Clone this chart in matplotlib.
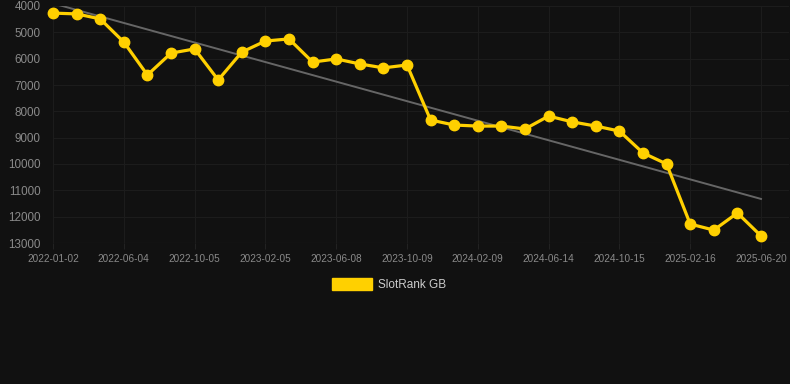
import numpy as np
import matplotlib.pyplot as plt
from matplotlib.patches import Rectangle

plt.rcParams["font.family"] = ["Liberation Sans", "DejaVu Sans"]

tick_labels = ["2022-01-02", "2022-06-04", "2022-10-05", "2023-02-05",
               "2023-06-08", "2023-10-09", "2024-02-09", "2024-06-14",
               "2024-10-15", "2025-02-16", "2025-06-20"]
rank = [4270, 4300, 4490, 5370, 6620, 5790, 5630, 6810, 5750, 5330,
        5250, 6130, 6010, 6200, 6350, 6240, 8330, 8520, 8560, 8560,
        8670, 8180, 8400, 8560, 8750, 9580, 10000, 12280, 12510, 11860,
        12730]
series_name = "SlotRank GB"

bg = "#111111"
yellow = "#ffd000"

x = np.arange(len(rank))
# linear trend over the points
slope, icpt = np.polyfit(x, rank, 1)

fig = plt.figure(figsize=(7.9, 3.84), dpi=100, facecolor=bg)
ax = fig.add_axes([53 / 790, 1 - 243 / 384, 736 / 790, 237 / 384])
ax.set_facecolor(bg)

ax.plot(x, icpt + slope * x, color="#666666", lw=1.4, zorder=2)
ax.plot(x, rank, color=yellow, lw=2.3, marker="o", ms=7.5,
        zorder=3, clip_on=False)

ax.set_ylim(13000, 4000)
ax.set_xlim(0, 30 + 28 / 23.6)
ax.set_yticks(range(4000, 13001, 1000))
ax.set_xticks(x[::3])
ax.set_xticklabels(tick_labels)
ax.tick_params(axis="y", length=0, pad=9, labelsize=8.4, labelcolor="#8a8a8a")
ax.tick_params(axis="x", length=4, color="#222222", pad=4, labelsize=7.2,
               labelcolor="#8a8a8a")
ax.grid(True, color="#1c1c1c", lw=0.8)
ax.set_axisbelow(True)
for s in ax.spines.values():
    s.set_visible(False)
ax.axhline(13000, color="#2a2a2a", lw=0.8, zorder=1)

fig.patches.append(Rectangle((332 / 790, 1 - 290 / 384), 40 / 790, 12 / 384,
                             transform=fig.transFigure, color=yellow))
fig.text(378 / 790, 1 - 285 / 384, series_name, color="#cccccc",
         fontsize=8.5, va="center", ha="left")

fig.savefig("out.png", dpi=100, facecolor=bg)
